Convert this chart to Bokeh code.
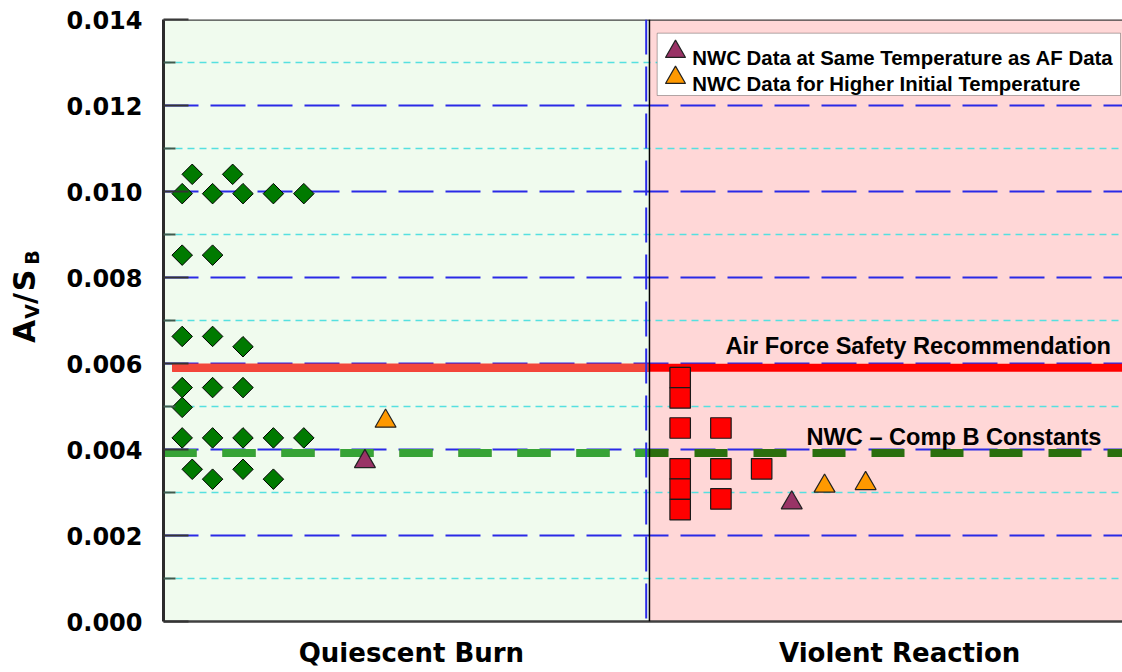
import math
from bokeh.plotting import figure
from bokeh.models import (Range1d, FixedTicker, PrintfTickFormatter, BoxAnnotation, Span,
                          Label, LinearAxis)
from bokeh.embed import file_html
from bokeh.resources import INLINE

# ---------------- data ----------------
# horizontal position of each test, in sample-slot units
AF_QUIESCENT_X = [1.33, 2.66, 1, 2, 3, 4, 5, 1, 2, 1, 2, 3, 1, 2, 3, 1,
                  1, 2, 3, 4, 5, 1.33, 3, 2, 4]
AF_QUIESCENT_Y = [0.01040, 0.01040, 0.00995, 0.00995, 0.00995, 0.00995, 0.00995,
                  0.00852, 0.00852, 0.00663, 0.00663, 0.00639, 0.00544, 0.00544,
                  0.00544, 0.00498, 0.00427, 0.00427, 0.00427, 0.00427, 0.00427,
                  0.00354, 0.00354, 0.00331, 0.00331]
AF_VIOLENT_X = [17.38, 17.38, 17.38, 17.38, 17.38, 17.38, 18.72, 18.72, 18.72, 20.06]
AF_VIOLENT_Y = [0.00567, 0.00520, 0.00450, 0.00355, 0.00308, 0.00260,
                0.00450, 0.00355, 0.00285, 0.00355]
NWC_SAME_X = [7.01, 21.05]
NWC_SAME_Y = [0.00372, 0.00276]
NWC_HIGH_X = [7.69, 22.13, 23.48]
NWC_HIGH_Y = [0.00466, 0.00315, 0.00321]
AF_SAFETY = 0.0059          # Air Force Safety Recommendation
NWC_COMPB = 0.00392         # NWC - Comp B Constants
REGION_NAMES = ["Quiescent Burn", "Violent Reaction"]
REGION_CENTERS = [8.54, 24.6]
REGION_SPLIT = 16.37
Y_TICKS = [0.000, 0.002, 0.004, 0.006, 0.008, 0.010, 0.012, 0.014]
Y_MINOR = [0.001, 0.003, 0.005, 0.007, 0.009, 0.011, 0.013]
SERIES_NAMES = ["NWC Data at Same Temperature as AF Data",
                "NWC Data for Higher Initial Temperature"]
# y-axis title  A_V / S_B : main letters and subscript letters
TITLE_MAIN = ["A", "/", "S"]
TITLE_SUB = ["V", "B"]

# ---------------- layout ----------------
W, H = 1122, 672
BL, BT, BB = 163, 19, 51
X0, X1 = 0.385, 31.93
Y0, Y1 = 0.0, 0.014
FRAME_L = BL
FRAME_B = H - BB
FRAME_W = W - BL
FRAME_H = H - BT - BB


def ux(px):   # canvas x -> data x
    return X0 + (px - FRAME_L) * (X1 - X0) / FRAME_W


def uy(py):   # canvas y -> data y
    return Y0 + (FRAME_B - py) * (Y1 - Y0) / FRAME_H


p = figure(width=W, height=H, x_range=Range1d(X0, X1), y_range=Range1d(Y0, Y1),
           output_backend="svg", toolbar_location=None,
           min_border_left=BL, min_border_top=BT, min_border_bottom=BB,
           min_border_right=0)
p.outline_line_color = None
p.background_fill_color = "white"
p.border_fill_color = "white"
p.xgrid.visible = False

GREEN_BG = "#f0fbee"
PINK_BG = "#ffd7d7"
p.add_layout(BoxAnnotation(right=REGION_SPLIT, fill_color=GREEN_BG, fill_alpha=1,
                           line_color=None, level="image"))
p.add_layout(BoxAnnotation(left=REGION_SPLIT, fill_color=PINK_BG, fill_alpha=1,
                           line_color=None, level="image"))

# x axis: region names
xax = p.xaxis[0]
xax.ticker = FixedTicker(ticks=REGION_CENTERS)
xax.major_label_overrides = {c: n for c, n in zip(REGION_CENTERS, REGION_NAMES)}
xax.major_label_text_font = "DejaVu Sans"
xax.major_label_text_font_style = "bold"
xax.major_label_text_font_size = "26px"
xax.major_label_text_color = "black"
xax.major_label_standoff = 16
xax.major_tick_in = 0
xax.major_tick_out = 0
xax.minor_tick_in = 0
xax.minor_tick_out = 0
xax.major_tick_line_color = None
xax.minor_tick_line_color = None
xax.axis_line_color = "#404040"
xax.axis_line_width = 2.5

# y axis
yax = p.yaxis[0]
ticker = FixedTicker(ticks=Y_TICKS, minor_ticks=Y_MINOR)
yax.ticker = ticker
yax.formatter = PrintfTickFormatter(format="%.3f")
yax.major_label_text_font = "DejaVu Sans"
yax.major_label_text_font_style = "bold"
yax.major_label_text_font_size = "24px"
yax.major_label_text_color = "black"
yax.major_label_standoff = 21
yax.axis_line_color = "#2b2b2b"
yax.axis_line_width = 3
yax.major_tick_in = 25
yax.major_tick_out = 0
yax.major_tick_line_color = "#333333"
yax.major_tick_line_width = 2
yax.minor_tick_in = 12
yax.minor_tick_out = 0
yax.minor_tick_line_color = "#3f5a4c"
yax.minor_tick_line_width = 2

# y-axis title built from two label-only axes (subscripts nearer the frame)
sub_pos = [uy(311), uy(257)]
main_pos = [uy(331), uy(298), uy(280)]
common = dict(major_label_orientation="parallel", major_label_text_font="DejaVu Sans",
              major_label_text_font_style="bold", major_label_text_color="black",
              axis_line_color=None, major_tick_line_color=None, minor_tick_line_color=None,
              major_tick_in=0, major_tick_out=0, minor_tick_in=0, minor_tick_out=0)
sub_axis = LinearAxis(ticker=FixedTicker(ticks=sub_pos),
                      major_label_overrides={v: t for v, t in zip(sub_pos, TITLE_SUB)},
                      major_label_text_font_size="19px", major_label_standoff=21, **common)
main_axis = LinearAxis(ticker=FixedTicker(ticks=main_pos),
                       major_label_overrides={v: t for v, t in zip(main_pos, TITLE_MAIN)},
                       major_label_text_font_size="30px", major_label_standoff=-24, **common)
p.add_layout(sub_axis, "left")
p.add_layout(main_axis, "left")

grid = p.ygrid[0]
grid.ticker = ticker
grid.grid_line_color = "#2a2ae6"
grid.grid_line_width = 2
grid.grid_line_dash = "35 12"
grid.minor_grid_line_color = "#55e0e0"
grid.minor_grid_line_width = 1.5
grid.minor_grid_line_dash = "7 5"

# top border and region divider
p.add_layout(Span(location=Y1, dimension="width", line_color="#404040", line_width=2.5))
p.add_layout(Span(location=ux(645.7), dimension="height", line_color="#2a2ae6",
                  line_width=2, line_dash="35 12"))
p.add_layout(Span(location=REGION_SPLIT, dimension="height", line_color="black",
                  line_width=1.5))

# reference lines
red_start = ux(171.7)
p.segment(x0=[red_start], y0=[AF_SAFETY], x1=[X1], y1=[AF_SAFETY],
          line_color="#ff0000", line_width=8)
p.segment(x0=[red_start], y0=[AF_SAFETY], x1=[REGION_SPLIT], y1=[AF_SAFETY],
          line_color="#f2473a", line_width=8)
p.segment(x0=[X0], y0=[NWC_COMPB], x1=[X1], y1=[NWC_COMPB],
          line_color="#2b6e0e", line_width=8, line_dash="33 26")
p.segment(x0=[X0], y0=[NWC_COMPB], x1=[REGION_SPLIT], y1=[NWC_COMPB],
          line_color="#36a336", line_width=8, line_dash="33 26")

# data markers
p.scatter(AF_QUIESCENT_X, AF_QUIESCENT_Y, marker="square", size=14.5, angle=math.pi / 4,
          fill_color="#007a00", line_color="black", line_width=1)
p.scatter(AF_VIOLENT_X, AF_VIOLENT_Y, marker="square", size=20.5,
          fill_color="#ff0000", line_color="#1a1a1a", line_width=1.2)
p.scatter(NWC_SAME_X, NWC_SAME_Y, marker="triangle", size=21,
          fill_color="#993366", line_color="#222222", line_width=1.2)
p.scatter(NWC_HIGH_X, NWC_HIGH_Y, marker="triangle", size=21,
          fill_color="#ff9900", line_color="#222222", line_width=1.2)

# line annotations
p.add_layout(Label(x=ux(725), y=uy(345), text="Air Force Safety Recommendation",
                   text_font="Liberation Sans", text_font_style="bold",
                   text_font_size="23.6px", text_color="black",
                   text_align="left", text_baseline="alphabetic"))
p.add_layout(Label(x=ux(806), y=uy(436.7), text="NWC \u2013 Comp B Constants",
                   text_font="Liberation Sans", text_font_style="bold",
                   text_font_size="23.6px", text_color="black",
                   text_align="left", text_baseline="alphabetic"))

# legend (built by hand)
p.add_layout(BoxAnnotation(left=ux(656.7), right=ux(1120), top=uy(32.7), bottom=uy(95),
                           fill_color="white", fill_alpha=1, line_color="black",
                           line_width=1, level="annotation"))
leg_x = ux(675)
p.scatter([leg_x], [uy(51.2)], marker="triangle", size=20, fill_color="#993366",
          line_color="#222222", line_width=1.2, level="overlay")
p.scatter([leg_x], [uy(77.2)], marker="triangle", size=20, fill_color="#ff9900",
          line_color="#222222", line_width=1.2, level="overlay")
for name, base in zip(SERIES_NAMES, [57.3, 83.3]):
    p.add_layout(Label(x=ux(691.7), y=uy(base), text=name, level="overlay",
                       text_font="Liberation Sans", text_font_style="bold",
                       text_font_size="20.4px", text_color="black",
                       text_align="left", text_baseline="alphabetic"))

open("out.html", "w").write(file_html(p, INLINE))
